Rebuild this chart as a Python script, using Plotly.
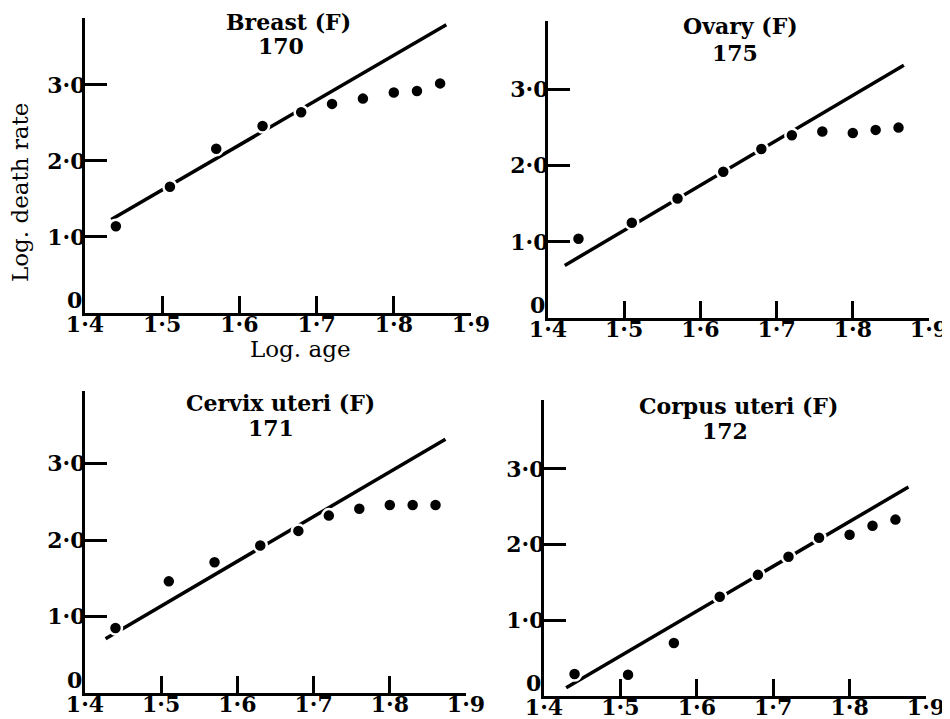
import plotly.graph_objects as go

# ---- data ----
log_age = [1.44, 1.51, 1.57, 1.63, 1.68, 1.72, 1.76, 1.80, 1.83, 1.86]

breast_y = [1.14, 1.66, 2.16, 2.46, 2.64, 2.75, 2.82, 2.90, 2.92, 3.02]
ovary_y = [1.04, 1.25, 1.57, 1.92, 2.22, 2.40, 2.45, 2.43, 2.47, 2.50]
cervix_y = [0.85, 1.46, 1.71, 1.93, 2.12, 2.32, 2.41, 2.46, 2.46, 2.46]
corpus_y = [0.29, 0.28, 0.70, 1.31, 1.60, 1.84, 2.09, 2.13, 2.25, 2.33]

breast_fit_x = [1.434, 1.868]
breast_fit_y = [1.23, 3.79]
ovary_fit_x = [1.422, 1.867]
ovary_fit_y = [0.69, 3.32]
cervix_fit_x = [1.427, 1.873]
cervix_fit_y = [0.71, 3.32]
corpus_fit_x = [1.429, 1.877]
corpus_fit_y = [0.11, 2.76]

titles = ["Breast (F)", "Ovary (F)", "Cervix uteri (F)", "Corpus uteri (F)"]
codes = ["170", "175", "171", "172"]

x_tickvals = [1.4, 1.5, 1.6, 1.7, 1.8, 1.9]
x_ticktext = ["1·4", "1·5", "1·6", "1·7", "1·8", "1·9"]
y_tickvals = [1, 2, 3]
y_ticktext = ["1·0", "2·0", "3·0"]
y_origin_label = "0"

W, H = 950, 719
FONT = "DejaVu Serif"

panels = [
    dict(ys=breast_y, fx=breast_fit_x, fy=breast_fit_y, xd=(77, 463), yd=(305, 10), ymax=3.88,
         t=(280, 14), c=(273, 38)),
    dict(ys=ovary_y, fx=ovary_fit_x, fy=ovary_fit_y, xd=(540, 921), yd=(310, 13), ymax=3.90,
         t=(732, 18), c=(727, 45)),
    dict(ys=cervix_y, fx=cervix_fit_x, fy=cervix_fit_y, xd=(77, 458), yd=(685, 383), ymax=3.95,
         t=(272, 395), c=(263, 420)),
    dict(ys=corpus_y, fx=corpus_fit_x, fy=corpus_fit_y, xd=(536, 918), yd=(688, 392), ymax=3.91,
         t=(730, 398), c=(717, 423)),
]

fig = go.Figure()
annotations = []
for i, p in enumerate(panels):
    n = "" if i == 0 else str(i + 1)
    xa, ya = "x" + n, "y" + n
    fig.add_trace(go.Scatter(x=p["fx"], y=p["fy"], mode="lines", xaxis=xa, yaxis=ya,
                             line=dict(color="black", width=3.5), showlegend=False,
                             hoverinfo="skip"))
    fig.add_trace(go.Scatter(x=log_age, y=p["ys"], mode="markers", xaxis=xa, yaxis=ya,
                             marker=dict(color="black", size=13,
                                         line=dict(color="white", width=2.5)),
                             showlegend=False))
    fig.layout["xaxis" + n] = dict(
        domain=[p["xd"][0] / W, p["xd"][1] / W], range=[1.4, 1.9], anchor=ya,
        tickvals=x_tickvals, ticktext=x_ticktext, ticks="inside", ticklen=17, tickwidth=3,
        tickcolor="black", showline=True, linecolor="black", linewidth=3,
        showgrid=False, zeroline=False, automargin=False, ticklabelstandoff=-10,
        tickfont=dict(family=FONT, size=22, color="black", weight="bold"))
    fig.layout["yaxis" + n] = dict(
        domain=[1 - p["yd"][0] / H, 1 - p["yd"][1] / H], range=[0, p["ymax"]], anchor=xa,
        tickvals=y_tickvals, ticktext=y_ticktext, ticks="inside", ticklen=22, tickwidth=3,
        tickcolor="black", showline=True, linecolor="black", linewidth=3,
        showgrid=False, zeroline=False, automargin=False, ticklabelstandoff=-8,
        tickfont=dict(family=FONT, size=22, color="black", weight="bold"))
    # origin label "0" sits just above the corner, as in the reference
    annotations.append(dict(text=y_origin_label, x=1.4, y=0, xref=xa, yref=ya,
                            showarrow=False, xanchor="right", yanchor="middle",
                            xshift=-1, yshift=13,
                            font=dict(family=FONT, size=22, color="black", weight="bold")))
    annotations.append(dict(text=titles[i], x=p["t"][0] / W, y=1 - p["t"][1] / H,
                            xref="paper", yref="paper", showarrow=False,
                            xanchor="center", yanchor="middle",
                            font=dict(family=FONT, size=22, color="black", weight="bold")))
    annotations.append(dict(text=codes[i], x=p["c"][0] / W, y=1 - p["c"][1] / H,
                            xref="paper", yref="paper", showarrow=False,
                            xanchor="center", yanchor="middle",
                            font=dict(family=FONT, size=22, color="black", weight="bold")))

annotations.append(dict(text="Log. death rate", x=12 / W, y=1 - 185 / H, xref="paper",
                        yref="paper", showarrow=False, textangle=-90,
                        xanchor="center", yanchor="middle",
                        font=dict(family=FONT, size=23, color="black")))
annotations.append(dict(text="Log. age", x=292 / W, y=1 - 341 / H, xref="paper",
                        yref="paper", showarrow=False, xanchor="center", yanchor="middle",
                        font=dict(family=FONT, size=23, color="black")))

fig.update_layout(width=W, height=H, margin=dict(l=0, r=0, t=0, b=0),
                  paper_bgcolor="white", plot_bgcolor="white", annotations=annotations)

fig.write_html("out.html")
